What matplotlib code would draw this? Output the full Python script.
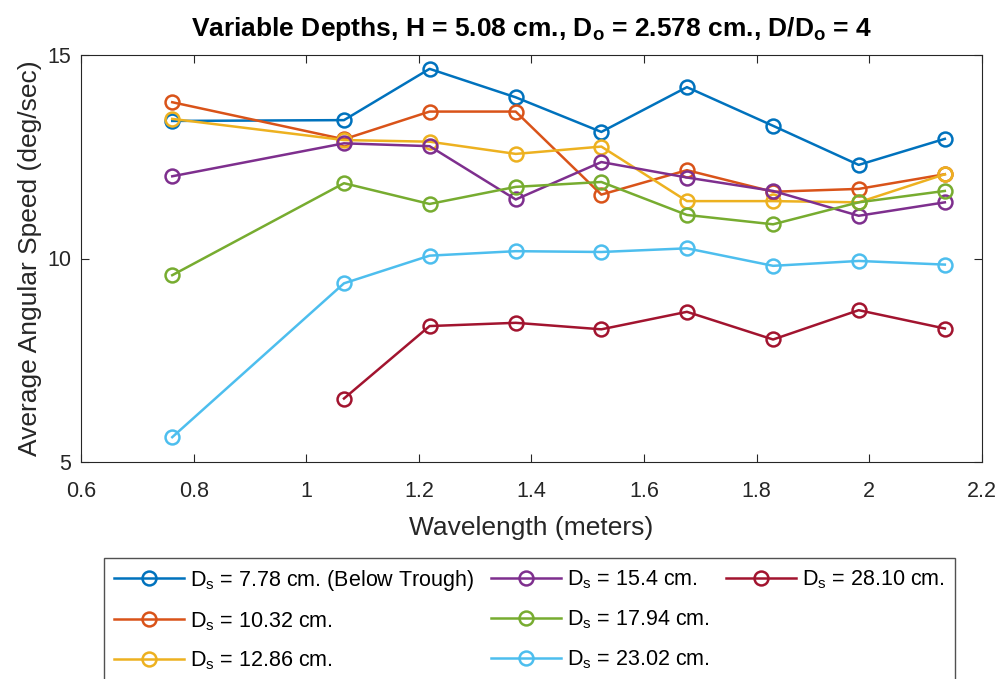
import matplotlib
matplotlib.use("Agg")
import matplotlib.pyplot as plt
from matplotlib.lines import Line2D
from matplotlib.ticker import FormatStrFormatter

plt.rcParams['font.family'] = ['Liberation Sans', 'DejaVu Sans']
plt.rcParams['mathtext.fontset'] = 'custom'
plt.rcParams['mathtext.rm'] = 'Liberation Sans'
plt.rcParams['mathtext.bf'] = 'Liberation Sans:bold'

# Wavelengths (m)
wavelength = [0.762, 1.067, 1.219, 1.372, 1.524, 1.676, 1.829, 1.981, 2.134]
wavelength_28 = [1.067, 1.219, 1.372, 1.524, 1.676, 1.829, 1.981, 2.134]

# Average angular speed (deg/sec) for each submergence depth
speed_778 = [13.38, 13.40, 14.66, 13.96, 13.11, 14.21, 13.26, 12.30, 12.94]
speed_1032 = [13.84, 12.93, 13.61, 13.61, 11.57, 12.17, 11.64, 11.71, 12.07]
speed_1286 = [13.43, 12.91, 12.87, 12.57, 12.75, 11.41, 11.41, 11.38, 12.07]
speed_1540 = [12.02, 12.83, 12.76, 11.45, 12.37, 11.99, 11.66, 11.05, 11.38]
speed_1794 = [9.59, 11.85, 11.34, 11.76, 11.88, 11.07, 10.84, 11.38, 11.66]
speed_2302 = [5.61, 9.39, 10.07, 10.18, 10.16, 10.25, 9.82, 9.94, 9.85]
speed_2810 = [6.56, 8.34, 8.42, 8.26, 8.69, 8.01, 8.73, 8.28]

labels = [
    r"D$_\mathrm{s}$ = 7.78 cm. (Below Trough)",
    r"D$_\mathrm{s}$ = 10.32 cm.",
    r"D$_\mathrm{s}$ = 12.86 cm.",
    r"D$_\mathrm{s}$ = 15.4 cm.",
    r"D$_\mathrm{s}$ = 17.94 cm.",
    r"D$_\mathrm{s}$ = 23.02 cm.",
    r"D$_\mathrm{s}$ = 28.10 cm.",
]
colors = ["#0072BD", "#D95319", "#EDB120", "#7E2F8E", "#77AC30", "#4DBEEE", "#A2142F"]

series = [
    (wavelength, speed_778),
    (wavelength, speed_1032),
    (wavelength, speed_1286),
    (wavelength, speed_1540),
    (wavelength, speed_1794),
    (wavelength, speed_2302),
    (wavelength_28, speed_2810),
]

fig = plt.figure(figsize=(10.04, 6.79), dpi=100)
ax = fig.add_axes([81 / 1004, 1 - 462 / 679, 901 / 1004, 407 / 679])

handles = []
for (x, y), c, lab in zip(series, colors, labels):
    h, = ax.plot(x, y, '-o', color=c, lw=1.8, ms=10, mfc='none', mew=1.8, label=lab)
    handles.append(h)

ax.set_xlim(0.6, 2.2)
ax.set_ylim(5, 15)
ax.set_xticks([0.6, 0.8, 1.0, 1.2, 1.4, 1.6, 1.8, 2.0, 2.2])
ax.set_yticks([5, 10, 15])
ax.xaxis.set_major_formatter(FormatStrFormatter('%g'))
ax.yaxis.set_major_formatter(FormatStrFormatter('%g'))
ax.tick_params(direction='in', top=True, right=True, length=6, width=0.8,
               colors='#262626', labelsize=15.5, pad=7)
ax.tick_params(axis='x', pad=14)
for s in ax.spines.values():
    s.set_color('#262626')
    s.set_linewidth(0.8)

ax.set_xlabel("Wavelength (meters)", fontsize=19, color='#262626', labelpad=10)
ax.set_ylabel("Average Angular Speed (deg/sec)", fontsize=19, color='#262626', labelpad=4)
ax.set_title(r"Variable Depths, H = 5.08 cm., D$_\mathbf{o}$ = 2.578 cm., D/D$_\mathbf{o}$ = 4",
             fontsize=19, fontweight='bold', pad=14)

# Legend: three columns, the last holding a single entry
blank = Line2D([], [], color='none', marker='none')
leg_handles = handles[:6] + [handles[6], blank, blank]
leg_labels = labels[:6] + [labels[6], " ", " "]
fig.legend(leg_handles, leg_labels, ncol=3, loc='upper left',
           bbox_to_anchor=(104 / 1004, 1 - 558 / 679), fontsize=15.5,
           frameon=True, fancybox=False, edgecolor='#262626',
           handlelength=3.25, handletextpad=0.3, columnspacing=0.75,
           labelspacing=0.8, borderpad=0.45, borderaxespad=0)

fig.savefig("out.png", dpi=100)
